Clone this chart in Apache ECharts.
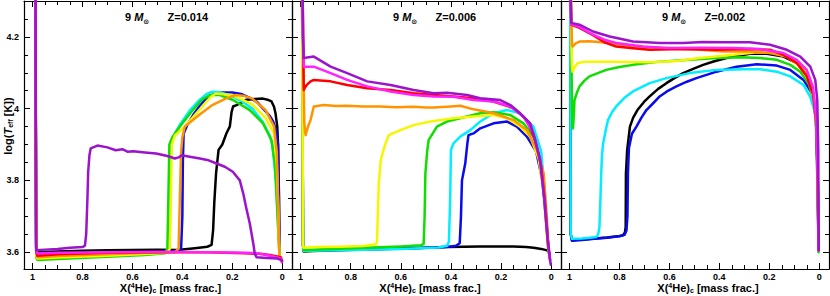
<!DOCTYPE html>
<html><head><meta charset="utf-8">
<script src="https://cdn.jsdelivr.net/npm/echarts@6/dist/echarts.min.js"></script>
<style>html,body{margin:0;padding:0;background:#fff}#c{width:830px;height:296px}</style>
</head><body><div id="c"></div>
<script>
// ---------------- DATA ----------------
const zLabels = ['Z=0.014', 'Z=0.006', 'Z=0.002'];
const xTickVals = [1, 0.8, 0.6, 0.4, 0.2, 0];
const xTickLabels = ['1', '0.8', '0.6', '0.4', '0.2', '0'];
const yTickVals = [3.6, 3.8, 4.0, 4.2];
const yTickLabels = ['3.6', '3.8', '4', '4.2'];
const trackNames = ['black', 'blue', 'cyan', 'green', 'yellow', 'orange', 'red', 'magenta', 'purple'];

// Panel 1 : Z = 0.014   [X(4He)c, log Teff]
const p1_black = [[0.99,4.6],[0.985,3.61],[0.98,3.600],[0.9,3.602],[0.8,3.604],[0.7,3.605],[0.6,3.606],[0.5,3.607],[0.42,3.606],[0.35,3.611],[0.30,3.615],[0.283,3.62],[0.277,3.66],[0.272,3.74],[0.265,3.82],[0.255,3.885],[0.24,3.90],[0.223,3.932],[0.21,3.95],[0.203,3.99],[0.197,4.006],[0.183,4.01],[0.165,4.016],[0.143,4.025],[0.11,4.027],[0.077,4.028],[0.055,4.024],[0.043,4.02],[0.033,4.005],[0.027,3.987],[0.02,3.95],[0.017,3.90],[0.014,3.78],[0.012,3.64],[0.01,3.60]];
const p1_blue = [[0.99,4.6],[0.985,3.60],[0.98,3.592],[0.9,3.594],[0.7,3.597],[0.5,3.600],[0.42,3.603],[0.405,3.61],[0.40,3.70],[0.398,3.85],[0.395,3.93],[0.38,3.955],[0.357,3.982],[0.33,4.008],[0.303,4.029],[0.27,4.042],[0.25,4.045],[0.2,4.045],[0.16,4.04],[0.13,4.03],[0.1,4.018],[0.077,4.0],[0.05,3.98],[0.037,3.965],[0.025,3.94],[0.017,3.90],[0.013,3.75],[0.011,3.60],[0.01,3.59]];
const p1_cyan = [[0.99,4.6],[0.985,3.59],[0.98,3.582],[0.9,3.585],[0.7,3.59],[0.5,3.596],[0.46,3.598],[0.452,3.61],[0.448,3.75],[0.445,3.90],[0.435,3.925],[0.41,3.955],[0.37,3.995],[0.33,4.025],[0.30,4.042],[0.28,4.047],[0.25,4.046],[0.2,4.035],[0.15,4.015],[0.12,4.0],[0.08,3.965],[0.05,3.925],[0.04,3.90],[0.025,3.8],[0.015,3.65],[0.01,3.59]];
const p1_green = [[0.99,4.6],[0.985,3.585],[0.98,3.578],[0.9,3.581],[0.7,3.587],[0.55,3.592],[0.47,3.597],[0.46,3.61],[0.456,3.75],[0.452,3.90],[0.44,3.92],[0.41,3.95],[0.363,3.992],[0.323,4.024],[0.29,4.038],[0.25,4.038],[0.197,4.024],[0.13,3.996],[0.077,3.959],[0.043,3.912],[0.03,3.85],[0.02,3.72],[0.012,3.60],[0.008,3.585]];
const p1_yellow = [[0.99,4.6],[0.985,3.59],[0.98,3.582],[0.9,3.585],[0.7,3.59],[0.55,3.595],[0.46,3.598],[0.45,3.61],[0.446,3.75],[0.442,3.90],[0.43,3.925],[0.39,3.95],[0.333,3.996],[0.29,4.03],[0.267,4.042],[0.2,4.038],[0.12,4.012],[0.067,3.974],[0.033,3.93],[0.022,3.85],[0.015,3.70],[0.012,3.60],[0.01,3.585]];
const p1_orange = [[0.99,4.6],[0.985,3.595],[0.98,3.586],[0.9,3.589],[0.7,3.594],[0.55,3.598],[0.43,3.60],[0.415,3.61],[0.41,3.75],[0.405,3.88],[0.40,3.92],[0.39,3.95],[0.333,3.982],[0.28,4.01],[0.227,4.028],[0.187,4.038],[0.15,4.035],[0.12,4.028],[0.067,3.996],[0.033,3.95],[0.022,3.88],[0.015,3.70],[0.012,3.60],[0.01,3.585]];
const p1_red = [[0.99,4.6],[0.985,3.60],[0.98,3.59],[0.9,3.594],[0.7,3.598],[0.5,3.60],[0.3,3.60],[0.15,3.597],[0.08,3.595],[0.05,3.592],[0.02,3.588],[0.005,3.585],[0.002,3.575]];
const p1_magenta = [[0.99,4.6],[0.985,3.605],[0.98,3.596],[0.9,3.598],[0.7,3.60],[0.5,3.601],[0.3,3.60],[0.15,3.598],[0.1,3.597],[0.05,3.59],[0.02,3.585],[0.005,3.582],[0.002,3.572]];
const p1_purple = [[0.988,4.6],[0.986,3.62],[0.985,3.605],[0.95,3.607],[0.9,3.609],[0.85,3.612],[0.80,3.614],[0.79,3.618],[0.785,3.65],[0.78,3.75],[0.777,3.824],[0.772,3.87],[0.767,3.889],[0.74,3.897],[0.70,3.892],[0.667,3.884],[0.64,3.887],[0.62,3.880],[0.597,3.881],[0.55,3.878],[0.505,3.875],[0.46,3.868],[0.43,3.861],[0.415,3.864],[0.403,3.870],[0.37,3.866],[0.33,3.861],[0.30,3.857],[0.263,3.847],[0.23,3.838],[0.198,3.824],[0.17,3.80],[0.155,3.76],[0.145,3.726],[0.13,3.68],[0.115,3.62],[0.11,3.595],[0.103,3.586],[0.06,3.584],[0.02,3.582],[0.003,3.578],[0.0,3.575]];

// Panel 2 : Z = 0.006
const p2_black = [[0.995,4.6],[0.99,3.62],[0.988,3.602],[0.95,3.603],[0.85,3.605],[0.7,3.608],[0.55,3.611],[0.416,3.614],[0.283,3.616],[0.2,3.616],[0.15,3.616],[0.1,3.614],[0.07,3.612],[0.04,3.609],[0.016,3.605],[0.01,3.60]];
const p2_blue = [[0.995,4.6],[0.99,3.62],[0.988,3.604],[0.95,3.605],[0.85,3.607],[0.7,3.609],[0.5,3.612],[0.42,3.614],[0.38,3.618],[0.365,3.625],[0.36,3.70],[0.356,3.80],[0.343,3.847],[0.335,3.90],[0.33,3.926],[0.31,3.931],[0.283,3.945],[0.23,3.959],[0.176,3.964],[0.137,3.95],[0.097,3.922],[0.06,3.88],[0.035,3.80],[0.02,3.70],[0.012,3.61],[0.008,3.595]];
const p2_cyan = [[0.995,4.6],[0.99,3.62],[0.988,3.603],[0.95,3.604],[0.8,3.606],[0.6,3.609],[0.45,3.613],[0.415,3.618],[0.408,3.63],[0.403,3.75],[0.40,3.885],[0.39,3.903],[0.363,3.922],[0.323,3.94],[0.283,3.964],[0.23,3.987],[0.176,3.996],[0.124,3.987],[0.071,3.95],[0.04,3.88],[0.025,3.76],[0.015,3.65],[0.01,3.60]];
const p2_green = [[0.995,4.6],[0.99,3.62],[0.988,3.606],[0.95,3.607],[0.8,3.611],[0.6,3.616],[0.52,3.619],[0.509,3.623],[0.505,3.70],[0.502,3.819],[0.495,3.88],[0.489,3.912],[0.456,3.95],[0.416,3.964],[0.336,3.978],[0.283,3.987],[0.23,3.99],[0.163,3.982],[0.111,3.959],[0.071,3.922],[0.045,3.86],[0.03,3.77],[0.018,3.66],[0.01,3.60]];
const p2_yellow = [[0.995,4.6],[0.99,3.62],[0.988,3.612],[0.95,3.614],[0.85,3.615],[0.75,3.617],[0.70,3.622],[0.695,3.628],[0.692,3.70],[0.688,3.791],[0.68,3.856],[0.667,3.89],[0.656,3.912],[0.648,3.926],[0.602,3.94],[0.549,3.954],[0.482,3.964],[0.39,3.973],[0.31,3.978],[0.23,3.982],[0.176,3.973],[0.124,3.95],[0.084,3.922],[0.05,3.86],[0.03,3.76],[0.018,3.65],[0.01,3.60]];
const p2_orange = [[0.995,4.6],[0.99,4.2],[0.985,3.96],[0.98,3.926],[0.97,3.95],[0.96,3.968],[0.947,4.006],[0.907,4.010],[0.86,4.007],[0.814,4.008],[0.75,4.006],[0.681,4.006],[0.62,4.004],[0.549,4.005],[0.50,4.003],[0.469,4.003],[0.40,4.006],[0.363,4.008],[0.31,3.998],[0.23,3.987],[0.15,3.968],[0.097,3.94],[0.071,3.903],[0.057,3.885],[0.03,3.819],[0.018,3.70],[0.01,3.605],[0.008,3.59]];
const p2_red = [[0.995,4.6],[0.99,4.2],[0.987,4.052],[0.983,4.058],[0.975,4.066],[0.96,4.076],[0.947,4.08],[0.88,4.076],[0.814,4.066],[0.734,4.057],[0.641,4.052],[0.549,4.043],[0.469,4.038],[0.39,4.034],[0.31,4.029],[0.23,4.02],[0.15,4.001],[0.097,3.968],[0.064,3.912],[0.04,3.84],[0.025,3.74],[0.012,3.62],[0.005,3.58]];
const p2_magenta = [[0.995,4.6],[0.99,4.2],[0.987,4.117],[0.947,4.117],[0.88,4.099],[0.814,4.080],[0.734,4.062],[0.641,4.048],[0.549,4.038],[0.469,4.034],[0.39,4.033],[0.31,4.024],[0.23,4.02],[0.163,4.006],[0.111,3.978],[0.071,3.932],[0.045,3.86],[0.028,3.75],[0.012,3.62],[0.004,3.575]];
const p2_purple = [[0.995,4.6],[0.99,4.2],[0.987,4.141],[0.947,4.145],[0.88,4.117],[0.814,4.099],[0.734,4.076],[0.641,4.066],[0.549,4.052],[0.469,4.043],[0.416,4.044],[0.336,4.038],[0.283,4.029],[0.203,4.024],[0.163,4.01],[0.124,3.987],[0.084,3.959],[0.064,3.912],[0.045,3.86],[0.028,3.75],[0.015,3.64],[0.004,3.575],[0.002,3.565]];

// Panel 3 : Z = 0.002
const p3_black = [[0.998,4.6],[0.995,3.65],[0.99,3.633],[0.95,3.635],[0.9,3.638],[0.85,3.641],[0.80,3.645],[0.786,3.647],[0.778,3.655],[0.775,3.67],[0.774,3.819],[0.769,3.885],[0.758,3.95],[0.745,3.975],[0.728,3.996],[0.70,4.02],[0.679,4.034],[0.645,4.055],[0.612,4.071],[0.58,4.085],[0.545,4.099],[0.50,4.112],[0.465,4.122],[0.42,4.132],[0.371,4.141],[0.32,4.148],[0.277,4.153],[0.21,4.153],[0.143,4.145],[0.09,4.127],[0.05,4.094],[0.023,4.04],[0.012,3.95],[0.006,3.75],[0.003,3.61]];
const p3_blue = [[0.998,4.6],[0.995,3.65],[0.99,3.632],[0.95,3.634],[0.9,3.637],[0.85,3.640],[0.80,3.644],[0.78,3.648],[0.772,3.66],[0.768,3.70],[0.766,3.82],[0.762,3.89],[0.75,3.93],[0.732,3.95],[0.712,3.975],[0.692,3.996],[0.665,4.015],[0.639,4.034],[0.61,4.048],[0.572,4.062],[0.53,4.075],[0.492,4.085],[0.411,4.103],[0.331,4.117],[0.25,4.124],[0.17,4.12],[0.116,4.108],[0.063,4.08],[0.03,4.043],[0.015,3.99],[0.008,3.9],[0.004,3.7],[0.003,3.61]];
const p3_cyan = [[0.998,4.6],[0.995,3.65],[0.99,3.637],[0.95,3.638],[0.92,3.64],[0.893,3.642],[0.885,3.65],[0.88,3.67],[0.876,3.75],[0.873,3.819],[0.87,3.87],[0.866,3.90],[0.855,3.94],[0.846,3.968],[0.83,3.99],[0.813,4.006],[0.78,4.03],[0.746,4.048],[0.679,4.071],[0.612,4.085],[0.518,4.099],[0.411,4.108],[0.304,4.11],[0.237,4.11],[0.17,4.103],[0.116,4.09],[0.063,4.066],[0.036,4.033],[0.016,3.987],[0.008,3.885],[0.004,3.7],[0.003,3.605]];
const p3_green = [[0.998,4.6],[0.993,4.2],[0.99,4.0],[0.988,3.95],[0.986,3.945],[0.982,3.99],[0.98,4.024],[0.97,4.045],[0.96,4.062],[0.94,4.078],[0.92,4.09],[0.853,4.108],[0.80,4.116],[0.746,4.122],[0.639,4.131],[0.518,4.136],[0.411,4.141],[0.317,4.143],[0.237,4.141],[0.17,4.136],[0.116,4.122],[0.076,4.103],[0.043,4.071],[0.02,4.02],[0.01,3.92],[0.005,3.75],[0.003,3.60]];
const p3_yellow = [[0.998,4.6],[0.993,4.2],[0.99,4.12],[0.988,4.103],[0.98,4.115],[0.967,4.127],[0.933,4.131],[0.813,4.131],[0.679,4.129],[0.572,4.133],[0.478,4.141],[0.344,4.15],[0.25,4.157],[0.183,4.155],[0.13,4.145],[0.076,4.117],[0.036,4.071],[0.016,4.0],[0.008,3.9],[0.004,3.7],[0.003,3.605]];
const p3_orange = [[0.998,4.6],[0.993,4.25],[0.99,4.18],[0.988,4.173],[0.975,4.182],[0.96,4.187],[0.92,4.188],[0.839,4.183],[0.746,4.173],[0.612,4.169],[0.478,4.164],[0.384,4.159],[0.277,4.159],[0.197,4.155],[0.13,4.145],[0.076,4.122],[0.036,4.08],[0.016,4.01],[0.008,3.9],[0.004,3.7],[0.003,3.605]];
const p3_red = [[0.998,4.6],[0.995,4.3],[0.993,4.234],[0.96,4.225],[0.906,4.205],[0.86,4.185],[0.813,4.173],[0.746,4.168],[0.679,4.164],[0.545,4.166],[0.411,4.164],[0.277,4.166],[0.197,4.164],[0.143,4.150],[0.09,4.127],[0.05,4.09],[0.025,4.04],[0.012,3.96],[0.006,3.8],[0.003,3.605]];
const p3_magenta = [[0.998,4.6],[0.995,4.3],[0.993,4.236],[0.96,4.228],[0.906,4.206],[0.86,4.192],[0.813,4.183],[0.706,4.173],[0.612,4.169],[0.478,4.17],[0.344,4.169],[0.237,4.166],[0.143,4.155],[0.09,4.136],[0.05,4.108],[0.025,4.06],[0.012,3.97],[0.006,3.8],[0.003,3.605]];
const p3_purple = [[0.998,4.6],[0.995,4.3],[0.993,4.239],[0.96,4.234],[0.906,4.215],[0.839,4.201],[0.746,4.187],[0.639,4.183],[0.545,4.183],[0.465,4.186],[0.384,4.185],[0.277,4.185],[0.197,4.178],[0.13,4.164],[0.076,4.145],[0.036,4.117],[0.016,4.080],[0.008,4.024],[0.004,3.885],[0.003,3.70],[0.002,3.605]];

const panelData = [
  [p1_black, p1_blue, p1_cyan, p1_green, p1_yellow, p1_orange, p1_red, p1_magenta, p1_purple],
  [p2_black, p2_blue, p2_cyan, p2_green, p2_yellow, p2_orange, p2_red, p2_magenta, p2_purple],
  [p3_black, p3_blue, p3_cyan, p3_green, p3_yellow, p3_orange, p3_red, p3_magenta, p3_purple]
];

// ---------------- STYLE / LAYOUT ----------------
const colorMap = {black:'#000000', blue:'#0a0aee', cyan:'#00eeff', green:'#11dd00', yellow:'#f6f600', orange:'#ff9400', red:'#ff0000', magenta:'#ff22ff', purple:'#9b14cc'};
const FONT = '"Liberation Sans", Arial, Helvetica, sans-serif';
const gridLefts = [24, 292, 561];
const gridWidths = [268, 269, 268];
const GRID_TOP = 1, GRID_H = 268;
const X_MIN = -0.039, X_MAX = 1.034, Y_MIN = 3.553, Y_MAX = 4.30;
const titleLefts = [125, 393, 662];
const xNameShift = [25, 7, 26];
const NB = '\u00a0';

const xMinor = []; for (let i = 0; i <= 20; i++) { const v = +(i * 0.05).toFixed(2); if (xTickVals.indexOf(v) < 0) xMinor.push(v); }
const yMinor = []; for (let i = 0; i < 14; i++) { const v = +(3.6 + i * 0.05).toFixed(2); if (yTickVals.indexOf(v) < 0) yMinor.push(v); }

const lineSt = {color:'#000', width:1.2};
const tickSt = {color:'#000', width:1};

const grids = [], xAxes = [], yAxes = [], series = [], titles = [];
const richAxis = {
  n: {fontSize:11, fontWeight:'bold', fontFamily:FONT, color:'#000', lineHeight:12},
  i: {fontSize:11, fontWeight:'bold', fontStyle:'italic', fontFamily:FONT, color:'#000', lineHeight:12},
  sup: {fontSize:7, fontWeight:'bold', fontFamily:FONT, color:'#000', lineHeight:6, verticalAlign:'top'},
  sub: {fontSize:7, fontWeight:'bold', fontFamily:FONT, color:'#000', lineHeight:6, verticalAlign:'bottom'}
};

for (let p = 0; p < 3; p++) {
  grids.push({left: gridLefts[p], top: GRID_TOP, width: gridWidths[p], height: GRID_H, containLabel:false, outerBoundsMode:'none'});
  const xb = {type:'value', gridIndex:p, min:X_MIN, max:X_MAX, inverse:true, splitLine:{show:false}};
  xAxes.push(Object.assign({}, xb, {position:'bottom',
    axisLine:{show:true, onZero:false, lineStyle:lineSt},
    axisTick:{show:true, inside:true, length:6, customValues:xTickVals, lineStyle:tickSt},
    axisLabel:{show:true, customValues:xTickVals, margin:3, fontSize:9, lineHeight:9, fontWeight:'bold', fontFamily:FONT, color:'#000',
      formatter: v => { const k = xTickVals.findIndex(t => Math.abs(t - v) < 1e-6); return k >= 0 ? xTickLabels[k] : ''; }},
    name:'{n|X(}{sup|4}{n|He)}{sub|c}{n|' + NB + '[mass' + NB + 'frac.]}', nameLocation:'middle', nameGap:13, nameMoveOverlap:false,
    nameTextStyle:{rich:richAxis, padding:[0,0,0,xNameShift[p]]}
  }));
  xAxes.push(Object.assign({}, xb, {position:'bottom', axisLine:{show:false, onZero:false},
    axisTick:{show:true, inside:true, length:4, customValues:xMinor, lineStyle:tickSt}, axisLabel:{show:false}}));
  xAxes.push(Object.assign({}, xb, {position:'top', axisLine:{show:true, onZero:false, lineStyle:lineSt},
    axisTick:{show:true, inside:true, length:6, customValues:xTickVals, lineStyle:tickSt}, axisLabel:{show:false}}));
  xAxes.push(Object.assign({}, xb, {position:'top', axisLine:{show:false, onZero:false},
    axisTick:{show:true, inside:true, length:4, customValues:xMinor, lineStyle:tickSt}, axisLabel:{show:false}}));

  const yb = {type:'value', gridIndex:p, min:Y_MIN, max:Y_MAX, splitLine:{show:false}};
  const yLeft = Object.assign({}, yb, {position:'left', axisLine:{show:true, onZero:false, lineStyle:lineSt},
    axisTick:{show:true, inside:true, length:6, customValues:yTickVals, lineStyle:tickSt},
    axisLabel:{show:p === 0, customValues:yTickVals, margin:5, fontSize:9, fontWeight:'bold', fontFamily:FONT, color:'#000',
      formatter: v => { const k = yTickVals.findIndex(t => Math.abs(t - v) < 1e-6); return k >= 0 ? yTickLabels[k] : ''; }}});
  if (p === 0) {
    yLeft.name = '{n|log(}{i|T}{sub|eff}{n|' + NB + '[K])}';
    yLeft.nameLocation = 'middle';
    yLeft.nameGap = 10;
    yLeft.nameRotate = 90;
    yLeft.nameMoveOverlap = false;
    yLeft.nameTextStyle = {rich:richAxis, padding:[0,0,0,18]};
  }
  yAxes.push(yLeft);
  yAxes.push(Object.assign({}, yb, {position:'left', axisLine:{show:false, onZero:false},
    axisTick:{show:true, inside:true, length:4, customValues:yMinor, lineStyle:tickSt}, axisLabel:{show:false}}));
  yAxes.push(Object.assign({}, yb, {position:'right', axisLine:{show:true, onZero:false, lineStyle:lineSt},
    axisTick:{show:true, inside:true, length:6, customValues:yTickVals, lineStyle:tickSt}, axisLabel:{show:false}}));
  yAxes.push(Object.assign({}, yb, {position:'right', axisLine:{show:false, onZero:false},
    axisTick:{show:true, inside:true, length:4, customValues:yMinor, lineStyle:tickSt}, axisLabel:{show:false}}));

  trackNames.forEach((nm, k) => {
    series.push({type:'line', name:nm + '_' + p, xAxisIndex:4 * p, yAxisIndex:4 * p,
      data:panelData[p][k], showSymbol:false, symbol:'none', clip:true, z:2 + k,
      lineStyle:{color:colorMap[nm], width:2.5, join:'round', cap:'round'}, itemStyle:{color:colorMap[nm]}});
  });

  titles.push({text:'{a|9' + NB + '}{m|M}{s|⊙}{a|' + NB + NB + NB + NB + NB + NB + zLabels[p] + '}', left:titleLefts[p], top:9, padding:0,
    textStyle:{rich:{
      a:{fontSize:11, fontWeight:'bold', fontFamily:FONT, color:'#000', lineHeight:16},
      m:{fontSize:11, fontWeight:'bold', fontStyle:'italic', fontFamily:FONT, color:'#000', lineHeight:16},
      s:{fontSize:7, fontWeight:'bold', fontFamily:'"DejaVu Sans", ' + FONT, color:'#000', lineHeight:8, verticalAlign:'bottom'}
    }}});
}

const chart = echarts.init(document.getElementById('c'), null, {renderer:'svg', width:830, height:296});
chart.setOption({animation:false, backgroundColor:'#fff', title:titles, grid:grids, xAxis:xAxes, yAxis:yAxes, series:series});
</script>
</body></html>
